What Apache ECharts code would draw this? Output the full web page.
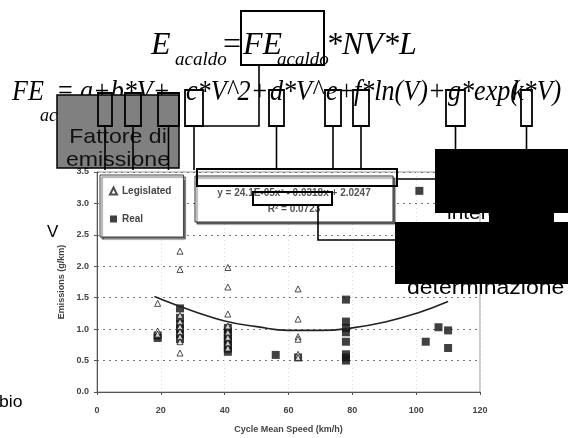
<!DOCTYPE html>
<html><head><meta charset="utf-8">
<script src="https://cdn.jsdelivr.net/npm/echarts@6/dist/echarts.min.js"></script>
<style>html,body{margin:0;padding:0;background:#fff}#c{width:568px;height:438px}</style>
</head><body><div id="c"></div>
<script>
// ---- data ----
const xTicks = [0, 20, 40, 60, 80, 100, 120];
const yTicks = [0, 0.5, 1.0, 1.5, 2.0, 2.5, 3.0, 3.5];
const seriesNames = ['Legislated', 'Real'];
const legislatedSpeed    = [19, 19, 19, 26, 26, 26, 26, 26, 26, 26, 26, 26, 41, 41, 41, 41, 41, 41, 41, 41, 63, 63, 63, 63, 63, 63];
const legislatedEmission = [1.41, 0.97, 0.92, 2.24, 1.95, 1.22, 1.12, 1.04, 0.96, 0.88, 0.8, 0.62, 1.98, 1.67, 1.24, 1.05, 0.95, 0.87, 0.78, 0.7, 1.64, 1.16, 0.88, 0.84, 0.6, 0.55];
const realSpeed    = [19, 19, 26, 26, 26, 26, 26, 26, 41, 41, 41, 41, 41, 41, 41, 41, 56, 63, 78, 78, 78, 78, 78, 78, 78, 78, 101, 103, 107, 110, 110];
const realEmission = [0.86, 0.9, 1.33, 1.18, 1.08, 1.0, 0.92, 0.84, 1.02, 0.96, 0.9, 0.85, 0.8, 0.74, 0.69, 0.64, 0.59, 0.55, 1.47, 1.12, 1.02, 0.95, 0.8, 0.6, 0.55, 0.5, 3.2, 0.8, 1.03, 0.98, 0.7];
const trendSpeed    = [18, 25, 30, 40, 50, 60, 70, 80, 90, 100, 110];
const trendEmission = [1.52, 1.38, 1.29, 1.13, 1.04, 0.98, 0.98, 1.02, 1.11, 1.25, 1.44];
const trendLabel = 'y = 24.1E-05x\u00B2 - 0.0318x + 2.0247';
const r2Label = 'R\u00B2 = 0.0723';
const xName = 'Cycle Mean Speed (km/h)';
const yName = 'Emissions (g/km)';
const formula1 = ['E', 'acaldo', '=', 'FE', 'acaldo', '*NV*L'];
const formula2 = ['FE', 'acaldo', '=', 'a+b*V+', 'c*V^2+', 'd*V^', 'e+', 'f*ln(V)+', 'g*exp(', 'k*V)'];
const boxLabel = ['Fattore di', 'emissione'];
const sideTexts = ['intercetta', 'determinazione', 'V', 'bio'];

function zip(a, b) { return a.map((v, i) => [v, b[i]]); }

const SERIF = '"Liberation Serif", "Times New Roman", serif';
const SANS = '"Liberation Sans", Arial, sans-serif';

function T(x, y, s, size, o) {
  o = o || {};
  return {
    type: 'text', x: x, y: y, z: o.z || 20, scaleX: o.sx || 1,
    style: {
      text: s, x: 0, y: 0, fill: o.fill || '#000',
      fontSize: size, fontFamily: o.family || SANS,
      fontStyle: o.italic ? 'italic' : 'normal', fontWeight: o.weight || 'normal',
      align: o.align || 'left', verticalAlign: 'middle',
      textAlign: o.align || 'left', textVerticalAlign: 'middle'
    }
  };
}
function R(x1, y1, x2, y2, o) {
  o = o || {};
  return {
    type: 'rect', z: o.z || 40,
    shape: { x: x1, y: y1, width: x2 - x1, height: y2 - y1 },
    style: Object.assign({ fill: o.fill || null, stroke: o.stroke === undefined ? '#000' : o.stroke, lineWidth: o.lw || 2 }, o.extra || {})
  };
}
function L(points, o) {
  o = o || {};
  return { type: 'polyline', z: o.z || 40, shape: { points: points }, style: { stroke: '#000', lineWidth: o.lw || 1.6, fill: null } };
}

const g = [];
// slide texts partly under the chart
g.push(T(47, 232, sideTexts[2], 17, { z: 1 }));
g.push(T(-1, 403, sideTexts[3], 16, { z: 1, sx: 1.1 }));
// formula line 1
const it = { family: SERIF, italic: true };
g.push(T(151, 46, formula1[0], 32, it));
g.push(T(175, 60, formula1[1], 19, it));
g.push(T(223, 46, formula1[2], 32, { family: SERIF }));
g.push(T(243, 46, formula1[3], 32, it));
g.push(T(277, 60, formula1[4], 19, it));
g.push(T(326, 46, formula1[5], 32, it));
// formula line 2
const it2 = { family: SERIF, italic: true, sx: 0.87 };
g.push(T(12, 92, formula2[0], 30, it2));
g.push(T(40, 116, formula2[1], 18, { family: SERIF, italic: true }));
g.push(T(58, 92, formula2[2], 30, { family: SERIF, sx: 0.87 }));
const f2x = [80, 186, 270, 326, 354, 448, 512];
for (let i = 0; i < f2x.length; i++) g.push(T(f2x[i], 92, formula2[3 + i], 30, it2));
// grey box
g.push(R(57, 95, 179, 168, { fill: '#808080', z: 30, lw: 1.5 }));
g.push(T(118, 137, boxLabel[0], 21, { align: 'center', sx: 1.1, z: 31, fill: '#111' }));
g.push(T(118, 160, boxLabel[1], 21, { align: 'center', sx: 1.1, z: 31, fill: '#111' }));
// top box and elbow
g.push(R(241, 11, 324, 65));
g.push(L([[259, 65], [259, 126], [185, 126]]));
// small coefficient boxes and their leader lines
const boxes = [[98, 112, 93], [125, 141, 93], [158, 179, 93], [185, 203, 90], [269, 284, 90], [325, 341, 90], [353, 369, 90], [446, 465, 90], [521, 532, 90]];
const ends = [170, 170, 170, 170, 170, 170, 170, 150, 150];
boxes.forEach((b, i) => {
  g.push(R(b[0], b[2], b[1], 126, { lw: 1.8 }));
  const cx = (b[0] + b[1]) / 2;
  g.push(L([[cx, 126], [cx, ends[i]]]));
});
// trendline label box (chart element)
g.push(R(195, 176, 393, 222, { fill: '#fff', stroke: '#333', lw: 1, z: 10, extra: { shadowColor: 'rgba(0,0,0,0.55)', shadowOffsetX: 2, shadowOffsetY: 2, shadowBlur: 1 } }));
g.push(T(294, 193, trendLabel, 10, { align: 'center', z: 11, fill: '#555', weight: 'bold' }));
g.push(T(294, 209, r2Label, 10, { align: 'center', z: 11, fill: '#555', weight: 'bold' }));
// overlay rectangles on the label
g.push(R(197, 169, 397, 186));
g.push(L([[397, 179], [436, 179]]));
g.push(R(253, 192, 332, 205));
g.push(L([[318, 205], [318, 240], [397, 240]]));
// side texts hidden by black boxes
g.push(T(447, 214, sideTexts[0], 19, { z: 35, sx: 1.1 }));
g.push(T(407, 288, sideTexts[1], 20, { z: 35, sx: 1.15 }));
// black boxes
g.push(R(436, 150, 570, 212, { fill: '#000', z: 45 }));
g.push(R(490, 211, 553, 222, { fill: '#000', z: 45 }));
g.push(R(396, 223, 570, 283, { fill: '#000', z: 45 }));

const chart = echarts.init(document.getElementById('c'), null, { renderer: 'canvas' });
chart.setOption({
  animation: false,
  backgroundColor: '#fff',
  grid: { left: 97, right: 88, top: 172, bottom: 46, show: true, borderColor: '#999', borderWidth: 1, containLabel: false, outerBoundsMode: 'none' },
  legend: {
    data: [{ name: seriesNames[0], icon: 'triangle' }, { name: seriesNames[1], icon: 'rect' }],
    orient: 'vertical', left: 100, top: 175, padding: [11, 12, 13, 9], itemGap: 18,
    itemWidth: 7, itemHeight: 7, backgroundColor: '#fff', borderColor: '#444', borderWidth: 1,
    shadowColor: 'rgba(0,0,0,0.6)', shadowOffsetX: 2, shadowOffsetY: 2, shadowBlur: 1,
    textStyle: { fontFamily: SANS, fontWeight: 'bold', fontSize: 10, color: '#444' }
  },
  xAxis: {
    type: 'value', min: xTicks[0], max: xTicks[xTicks.length - 1], interval: 20,
    name: xName, nameLocation: 'middle', nameGap: 33,
    nameTextStyle: { fontFamily: SANS, fontWeight: 'bold', fontSize: 9, color: '#444' },
    axisLine: { lineStyle: { color: '#555', width: 1 } },
    axisTick: { show: true, length: 3, lineStyle: { color: '#555' } },
    axisLabel: { margin: 14, fontFamily: SANS, fontWeight: 'bold', fontSize: 9, color: '#444' },
    splitLine: { show: true, lineStyle: { color: '#ddd', type: [1, 3] } }
  },
  yAxis: {
    type: 'value', min: yTicks[0], max: yTicks[yTicks.length - 1], interval: 0.5,
    name: yName, nameLocation: 'middle', nameGap: 31,
    nameTextStyle: { fontFamily: SANS, fontWeight: 'bold', fontSize: 9, color: '#444' },
    axisLine: { show: true, lineStyle: { color: '#555', width: 1 } },
    axisTick: { show: true, length: 3, lineStyle: { color: '#555' } },
    axisLabel: { margin: 8, fontFamily: SANS, fontWeight: 'bold', fontSize: 9, color: '#444', formatter: v => v.toFixed(1) },
    splitLine: { show: true, lineStyle: { color: '#777', type: [2, 4] } }
  },
  series: [
    { name: seriesNames[0], type: 'scatter', data: zip(legislatedSpeed, legislatedEmission), symbol: 'triangle', symbolSize: 6,
      itemStyle: { color: '#fff', borderColor: '#222', borderWidth: 1 }, z: 4 },
    { name: seriesNames[1], type: 'scatter', data: zip(realSpeed, realEmission), symbol: 'rect', symbolSize: 8,
      itemStyle: { color: '#111' }, z: 3 },
    { name: 'trend', type: 'line', data: zip(trendSpeed, trendEmission), smooth: true, showSymbol: false, symbol: 'none',
      lineStyle: { color: '#222', width: 1.6 }, z: 5 }
  ],
  graphic: { elements: g }
});
</script></body></html>
